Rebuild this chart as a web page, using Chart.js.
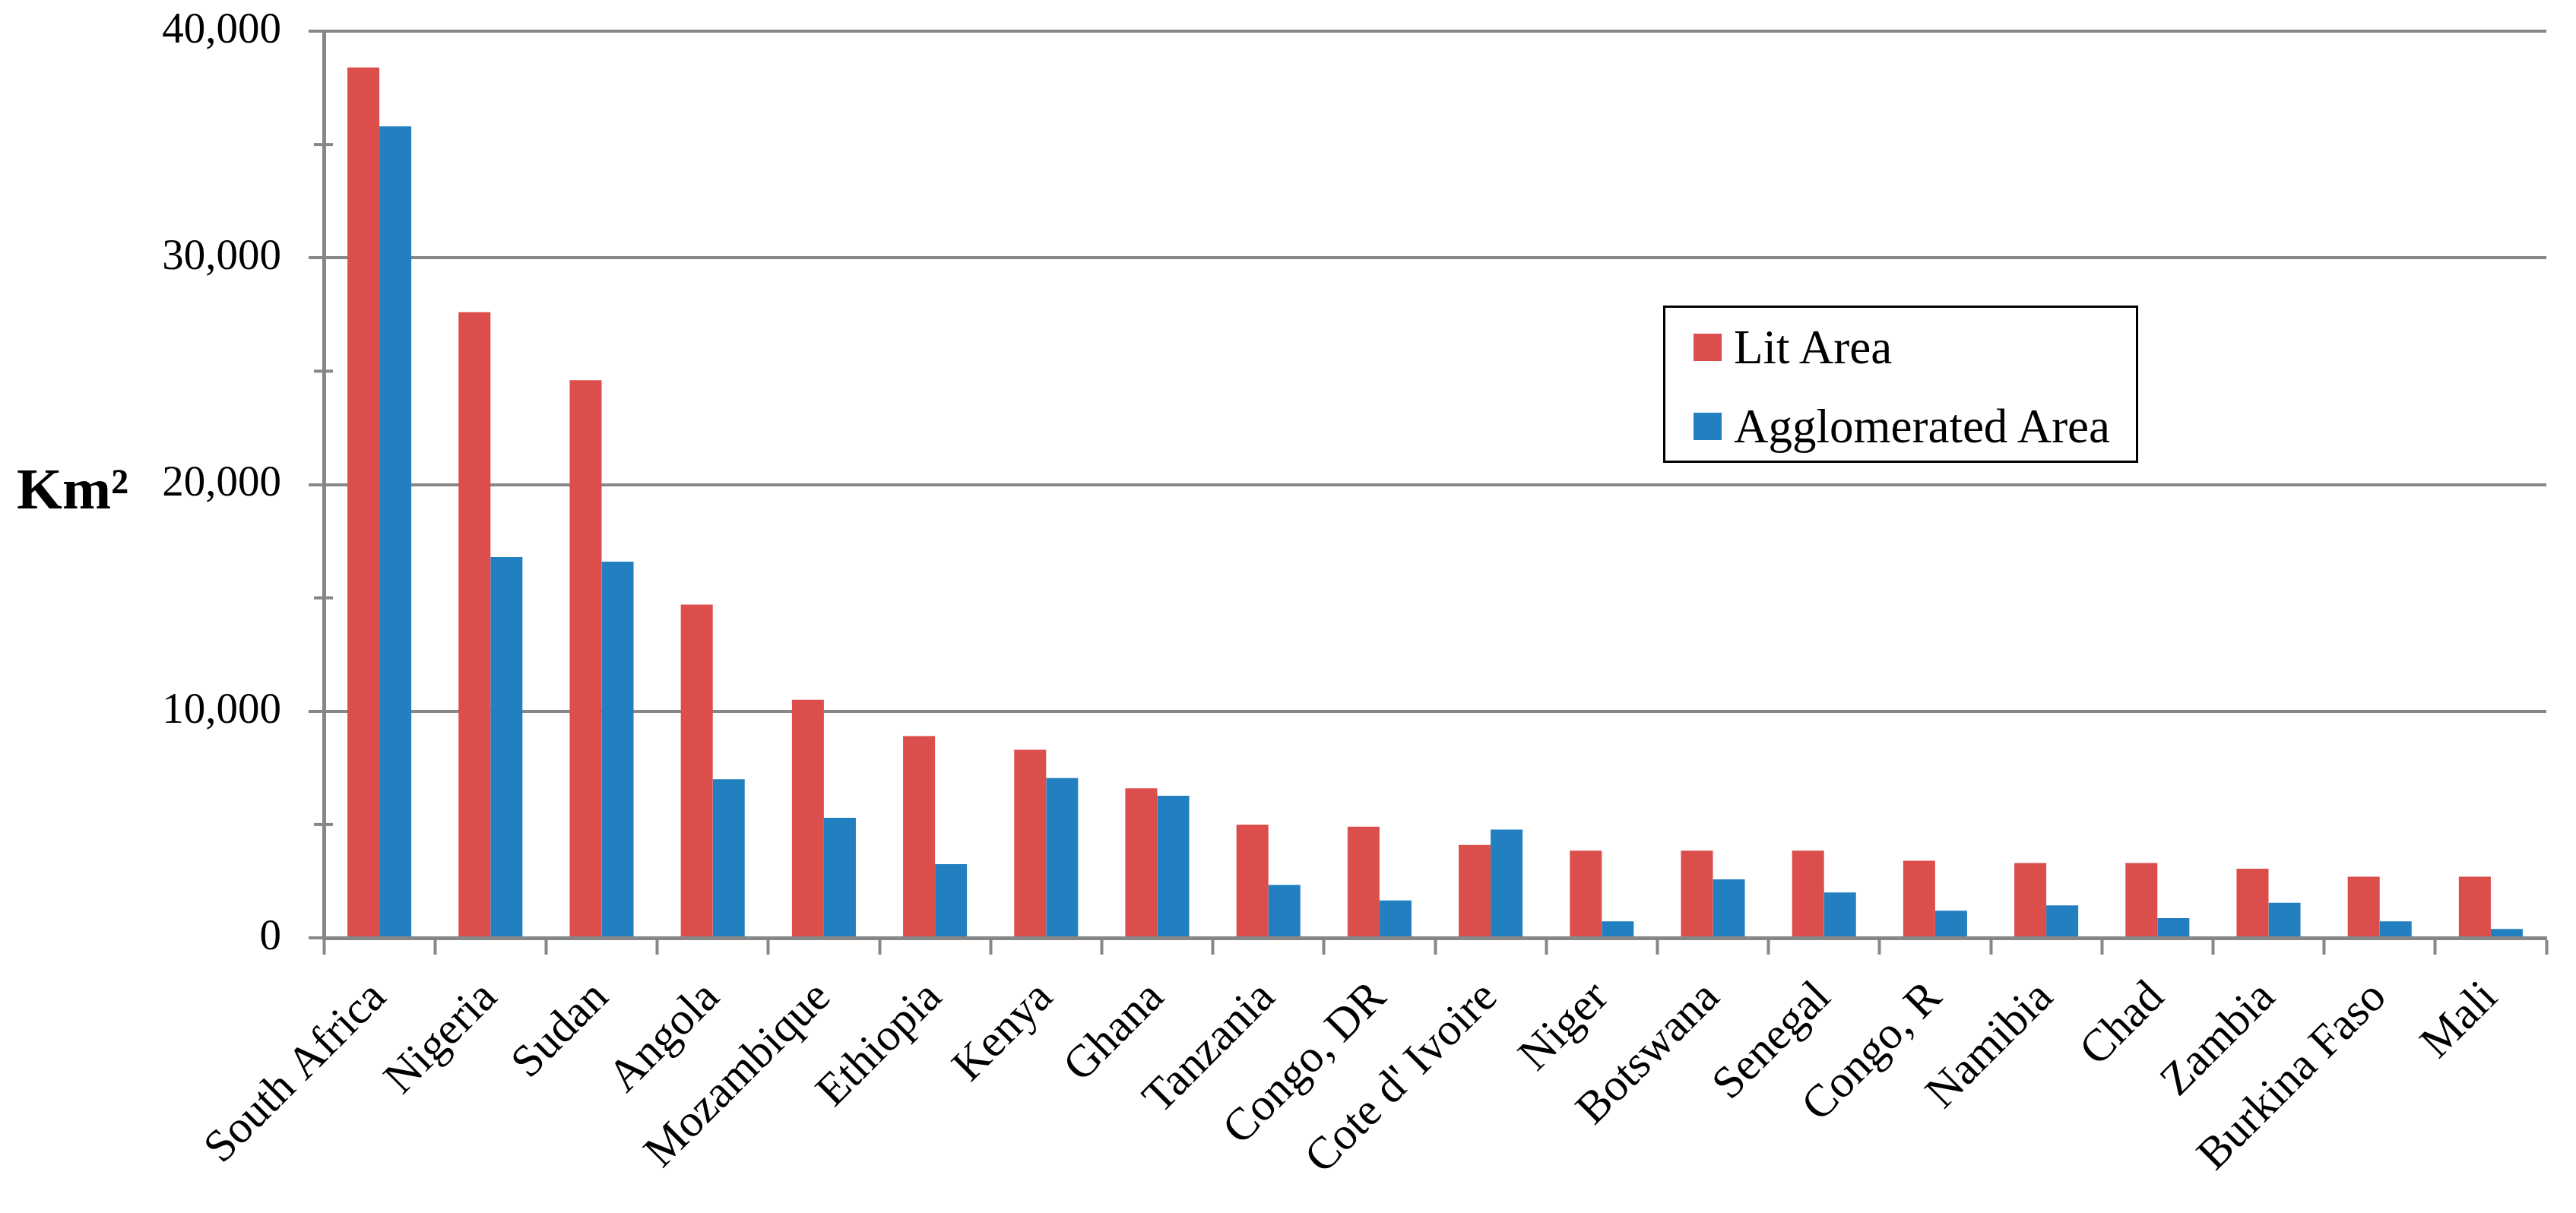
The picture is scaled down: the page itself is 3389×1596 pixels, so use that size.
<!DOCTYPE html>
<html>
<head>
<meta charset="utf-8">
<script src="https://cdn.jsdelivr.net/npm/chart.js@4/dist/chart.umd.min.js"></script>
<style>
  html, body { margin: 0; padding: 0; background: #fff; }
  #wrap { position: relative; width: 3389px; height: 1596px; }
  #legend {
    position: absolute; left: 2188px; top: 402px; width: 619px; height: 201px;
    border: 3px solid #000; background: #fff; font-family: "Liberation Serif", serif;
    font-size: 63px; color: #000;
  }
  .item { position: absolute; left: 37px; height: 60px; display: flex; align-items: center; }
  .sw { width: 37px; height: 36px; margin-right: 16px; }
</style>
</head>
<body>
<div id="wrap">
  <canvas id="c" width="3389" height="1596"></canvas>
  <div id="legend"></div>
</div>
<script>
const categories = ['South Africa','Nigeria','Sudan','Angola','Mozambique','Ethiopia','Kenya','Ghana','Tanzania','Congo, DR',"Cote d' Ivoire",'Niger','Botswana','Senegal','Congo, R','Namibia','Chad','Zambia','Burkina Faso','Mali'];
const litArea = [38400,27600,24600,14700,10500,8900,8300,6600,5000,4900,4100,3850,3850,3850,3400,3300,3300,3050,2700,2700];
const agglomeratedArea = [35800,16800,16600,7000,5300,3250,7050,6270,2340,1650,4780,730,2580,2000,1200,1430,870,1550,730,390];
const seriesNames = ['Lit Area','Agglomerated Area'];
const yTickLabels = ['0','10,000','20,000','30,000','40,000'];
const yAxisTitle = 'Km\u00B2';

const RED = '#DB4E4C';
const BLUE = '#2280C0';
const GRID = '#878787';

const extrasPlugin = {
  id: 'extras',
  afterDraw(chart) {
    const ys = chart.scales.y;
    const ctx = chart.ctx;
    ctx.save();
    ctx.strokeStyle = GRID;
    ctx.lineWidth = 4;
    // minor ticks crossing the value axis
    ys.ticks.forEach(t => {
      if (t.value % 10000 !== 0) {
        const py = ys.getPixelForValue(t.value);
        ctx.beginPath();
        ctx.moveTo(ys.right - 13, py);
        ctx.lineTo(ys.right + 12, py);
        ctx.stroke();
      }
    });
    // axis title, horizontal
    const ca = chart.chartArea;
    ctx.fillStyle = '#000';
    ctx.font = 'bold 77px "Liberation Serif"';
    ctx.textAlign = 'left';
    ctx.textBaseline = 'alphabetic';
    ctx.fillText(yAxisTitle, 22, (ca.top + ca.bottom) / 2 + 31);
    ctx.restore();
  }
};

const chart = new Chart(document.getElementById('c'), {
  type: 'bar',
  data: {
    labels: categories,
    datasets: [
      { label: seriesNames[0], data: litArea, backgroundColor: RED, borderWidth: 0,
        categoryPercentage: 0.575, barPercentage: 1.0 },
      { label: seriesNames[1], data: agglomeratedArea, backgroundColor: BLUE, borderWidth: 0,
        categoryPercentage: 0.575, barPercentage: 1.0 }
    ]
  },
  options: {
    responsive: false,
    animation: false,
    devicePixelRatio: 1,
    layout: { padding: { left: 0, right: 39, top: 41, bottom: 0 } },
    plugins: { legend: { display: false }, tooltip: { enabled: false } },
    scales: {
      x: {
        offset: true,
        grid: {
          offset: true, drawOnChartArea: false, drawTicks: true,
          tickLength: 22, tickWidth: 4, tickColor: GRID
        },
        border: { display: true, color: GRID, width: 5 },
        ticks: {
          autoSkip: false, minRotation: 45, maxRotation: 45, padding: 22,
          color: '#000',
          font: { family: 'Liberation Serif', size: 60 }
        },
        afterFit: s => { s.height = 362; }
      },
      y: {
        min: 0, max: 40000,
        grid: {
          color: c => (c.tick && c.tick.value % 10000 === 0) ? GRID : 'rgba(0,0,0,0)',
          tickColor: c => (c.tick && c.tick.value % 10000 === 0) ? GRID : 'rgba(0,0,0,0)',
          lineWidth: 4, tickLength: 20, tickWidth: 4
        },
        border: { display: true, color: GRID, width: 5 },
        ticks: {
          stepSize: 5000, padding: 36, color: '#000',
          font: { family: 'Liberation Serif', size: 57 },
          callback: v => (v % 10000 === 0) ? yTickLabels[v / 10000] : ''
        },
        afterFit: s => { s.width = 426; s.paddingTop = 0; s.paddingBottom = 0; }
      }
    }
  },
  plugins: [extrasPlugin]
});

// HTML legend from the datasets
const lg = document.getElementById('legend');
chart.data.datasets.forEach((ds, i) => {
  const it = document.createElement('div');
  it.className = 'item';
  it.style.top = (22 + i * 104) + 'px';
  const sw = document.createElement('span');
  sw.className = 'sw';
  sw.style.background = ds.backgroundColor;
  const tx = document.createElement('span');
  tx.textContent = ds.label;
  it.appendChild(sw); it.appendChild(tx);
  lg.appendChild(it);
});
</script>
</body>
</html>
